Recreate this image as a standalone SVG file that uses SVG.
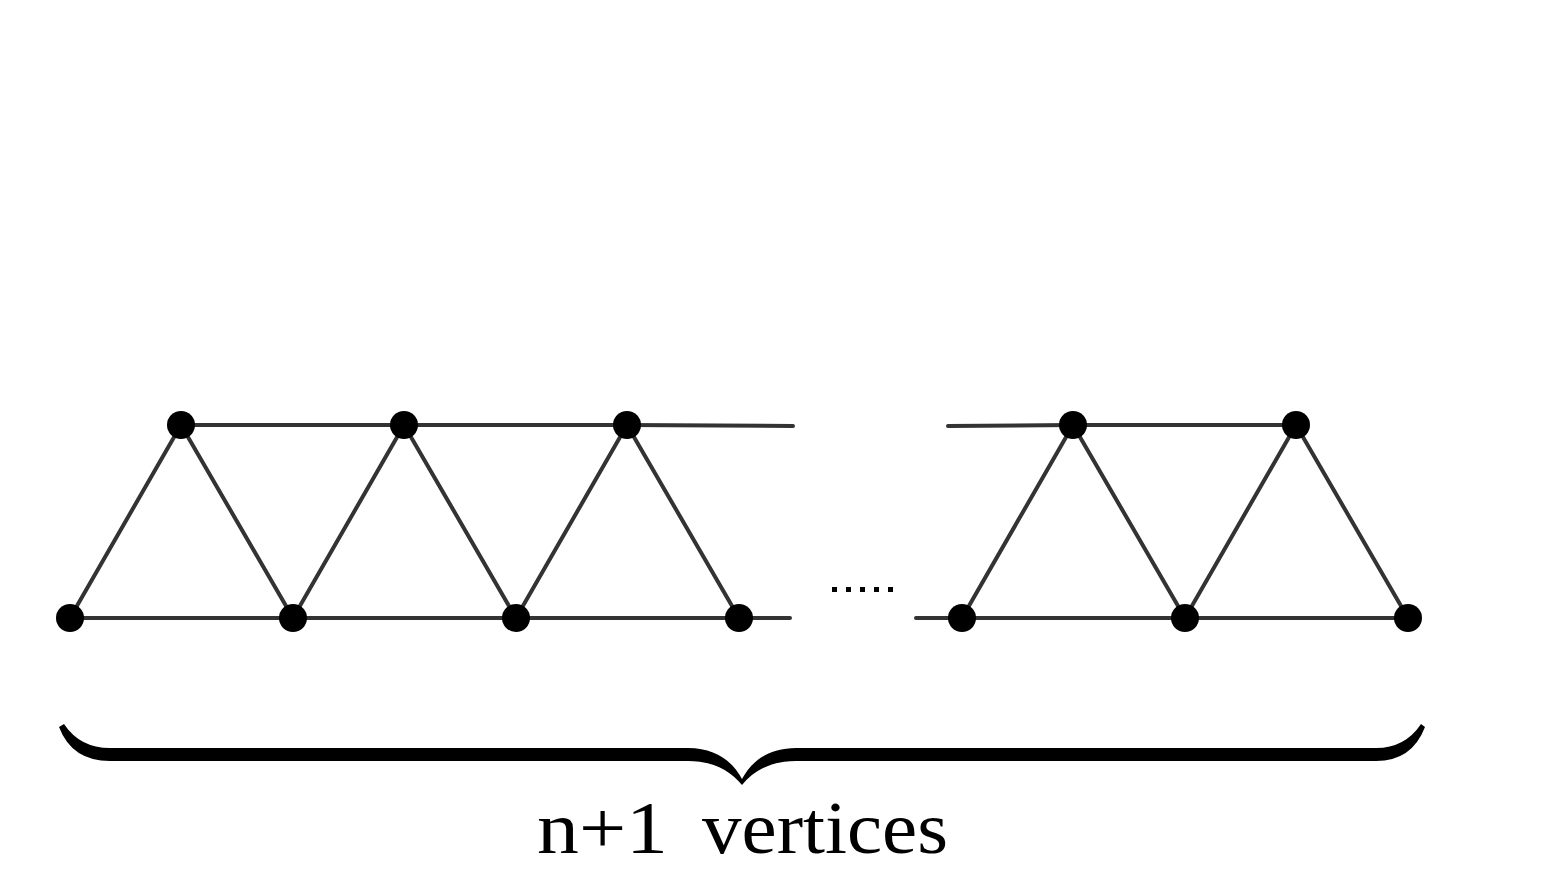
<svg xmlns="http://www.w3.org/2000/svg" width="1555" height="873" viewBox="0 0 1555 873">
<style>
.e{stroke:#333;stroke-width:4;stroke-linecap:round;fill:none}
.n{fill:#000}
.lbl{font-family:"Liberation Serif","DejaVu Serif",serif;font-size:74px;fill:#000}
</style>
<rect width="1555" height="873" fill="#fff"/>
<g id="connectors">
<line class="e" x1="70" y1="618" x2="790" y2="618"/>
<line class="e" x1="916" y1="618" x2="1408" y2="618"/>
<line class="e" x1="181" y1="425" x2="627" y2="425"/>
<line class="e" x1="627" y1="425" x2="793" y2="426"/>
<line class="e" x1="948" y1="426" x2="1073" y2="425"/>
<line class="e" x1="1073" y1="425" x2="1296" y2="425"/>
<polyline class="e" points="70,618 181,425 293,618 404,425 516,618 627,425 739,618"/>
<polyline class="e" points="962,618 1073,425 1185,618 1296,425 1408,618"/>
</g>
<g id="v0"><circle class="n" cx="70" cy="618" r="14"/></g>
<g id="v1"><circle class="n" cx="181" cy="425" r="14"/></g>
<g id="v2"><circle class="n" cx="293" cy="618" r="14"/></g>
<g id="v3"><circle class="n" cx="404" cy="425" r="14"/></g>
<g id="v4"><circle class="n" cx="516" cy="618" r="14"/></g>
<g id="v5"><circle class="n" cx="627" cy="425" r="14"/></g>
<g id="v6"><circle class="n" cx="739" cy="618" r="14"/></g>
<g id="v7"><circle class="n" cx="962" cy="618" r="14"/></g>
<g id="v8"><circle class="n" cx="1073" cy="425" r="14"/></g>
<g id="v9"><circle class="n" cx="1185" cy="618" r="14"/></g>
<g id="v10"><circle class="n" cx="1296" cy="425" r="14"/></g>
<g id="v11"><circle class="n" cx="1408" cy="618" r="14"/></g>
<g id="dots" fill="#000">
<rect x="832" y="587" width="5" height="5"/>
<rect x="846" y="587" width="5" height="5"/>
<rect x="860" y="587" width="5" height="5"/>
<rect x="874" y="587" width="5" height="5"/>
<rect x="888" y="587" width="5" height="5"/>
</g>
<g id="brace">
<path fill="#000" d="M59,727 Q72,761 110,761 L688,761 C712,761 730,770 742,785 C754,770 772,761 796,761 L1376,761 Q1412,761 1425,727 L1421,724 Q1405,748 1376,748 L796,748 C768,748 751,762 742,779 C733,762 716,748 688,748 L110,748 Q80,748 64,724 Z"/>
</g>
<g id="label">
<text class="lbl" x="537" y="853" textLength="131" lengthAdjust="spacingAndGlyphs">n+1</text>
<text class="lbl" x="702" y="853" textLength="246" lengthAdjust="spacingAndGlyphs">vertices</text>
</g>
</svg>
